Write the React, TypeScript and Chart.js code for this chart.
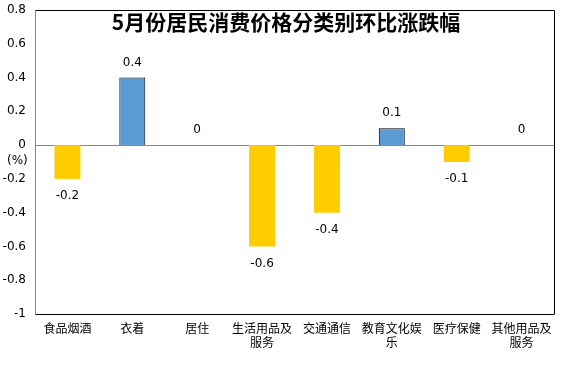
import React, { useEffect, useRef } from "react";
import { Chart, registerables } from "chart.js";

Chart.register(...registerables);

const categories: (string | string[])[] = [
  "食品烟酒",
  "衣着",
  "居住",
  ["生活用品及", "服务"],
  "交通通信",
  ["教育文化娱", "乐"],
  "医疗保健",
  ["其他用品及", "服务"],
];
const values: number[] = [-0.2, 0.4, 0, -0.6, -0.4, 0.1, -0.1, 0];
const yTicks: number[] = [-1, -0.8, -0.6, -0.4, -0.2, 0, 0.2, 0.4, 0.6, 0.8];
const title = "5月份居民消费价格分类别环比涨跌幅";
const unitLabel = "(%)";

const POS = "#5B9BD5";
const NEG = "#FFCC00";

export default function App() {
  const ref = useRef<HTMLCanvasElement | null>(null);
  useEffect(() => {
    document.body.style.margin = "0";
    const canvas = ref.current!;
    const decor = {
      id: "decor",
      beforeDatasetsDraw(chart: any) {
        const { ctx, chartArea: a, scales } = chart;
        const y0 = Math.round(scales.y.getPixelForValue(0)) + 0.5;
        ctx.save();
        ctx.lineWidth = 1;
        ctx.strokeStyle = "#888888";
        ctx.beginPath();
        ctx.moveTo(a.left, y0);
        ctx.lineTo(a.right, y0);
        ctx.stroke();
        ctx.restore();
      },
      afterDatasetsDraw(chart: any) {
        const { ctx, chartArea: a, scales } = chart;
        const L = Math.round(a.left) + 0.5;
        const R = Math.round(a.right) + 0.5;
        const T = Math.round(a.top) + 0.5;
        const B = Math.round(a.bottom) + 0.5;
        ctx.save();
        ctx.lineWidth = 1;
        ctx.strokeStyle = "#000000";
        ctx.beginPath();
        ctx.moveTo(L, T);
        ctx.lineTo(R, T);
        ctx.lineTo(R, B);
        ctx.lineTo(L, B);
        ctx.stroke();
        ctx.strokeStyle = "#888888";
        ctx.beginPath();
        ctx.moveTo(L, T);
        ctx.lineTo(L, B);
        ctx.stroke();

        // data labels
        ctx.fillStyle = "#000000";
        ctx.font = "12px 'DejaVu Sans', sans-serif";
        ctx.textAlign = "center";
        ctx.textBaseline = "middle";
        const meta = chart.getDatasetMeta(0);
        meta.data.forEach((bar: any, i: number) => {
          const v = values[i];
          const yy = v >= 0 ? bar.y - 15 : bar.y + 17;
          ctx.fillText(String(v), bar.x, yy);
        });

        // title
        ctx.font = "bold 21px 'Noto Sans CJK SC', sans-serif";
        ctx.fillText(title, 286, 22);

        // unit label
        ctx.font = "12px 'DejaVu Sans', sans-serif";
        ctx.textAlign = "left";
        ctx.fillText(unitLabel, 7, scales.y.getPixelForValue(0) + 16);
        ctx.restore();
      },
    };
    const chart = new Chart(canvas, {
      type: "bar",
      data: {
        labels: categories,
        datasets: [
          {
            data: values,
            backgroundColor: values.map((v) => (v > 0 ? POS : NEG)),
            borderColor: values.map((v) => (v > 0 ? "#000000" : NEG)),
            borderWidth: values.map((v) => (v > 0 ? 1 : 0)),
            barPercentage: 0.4,
            categoryPercentage: 1,
          },
        ],
      },
      options: {
        animation: false,
        responsive: false,
        layout: { padding: { left: 0, right: 20, top: 10, bottom: 0 } },
        plugins: { legend: { display: false }, tooltip: { enabled: false }, title: { display: false } },
        scales: {
          x: {
            grid: { display: false, drawTicks: false },
            border: { display: false },
            ticks: {
              color: "#000000",
              font: { family: "'Noto Sans CJK SC', sans-serif", size: 12, lineHeight: 1.2 },
              padding: 7,
              maxRotation: 0,
              autoSkip: false,
            },
            afterFit(scale: any) {
              scale.height = 60;
              scale.paddingLeft = 0;
              scale.paddingRight = 0;
            },
          },
          y: {
            min: -1,
            max: 0.8,
            grid: { display: false, drawTicks: false },
            border: { display: false },
            afterBuildTicks(scale: any) {
              scale.ticks = yTicks.map((v) => ({ value: v }));
            },
            ticks: {
              color: "#000000",
              font: { family: "'DejaVu Sans', sans-serif", size: 12 },
              padding: 9,
              callback: (v: any) => String(Math.round(Number(v) * 10) / 10),
            },
            afterFit(scale: any) {
              scale.width = 35;
              scale.paddingTop = 0;
              scale.paddingBottom = 0;
            },
          },
        },
      },
      plugins: [decor],
    });
    return () => chart.destroy();
  }, []);
  return <canvas ref={ref} width={574} height={374} style={{ display: "block" }} />;
}
